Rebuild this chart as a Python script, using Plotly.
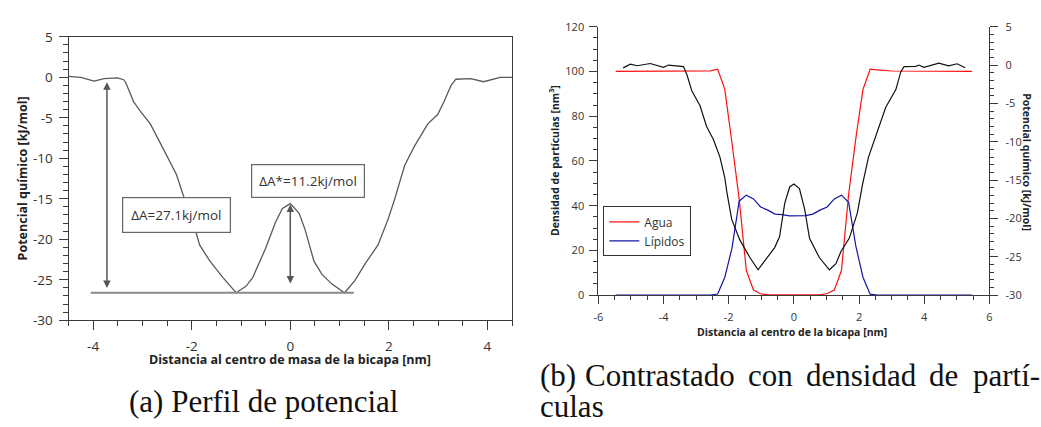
import plotly.graph_objects as go

# ---------------- Data ----------------
# (a) potential profile
pot_x = [-4.5, -4.25, -3.98, -3.78, -3.51, -3.38, -3.34, -3.18, -3.04, -2.84, -2.64, -2.46, -2.31, -2.17,
         -1.97, -1.84, -1.63, -1.37, -1.10, -0.90, -0.76, -0.50, -0.30, -0.16, 0.0, 0.18, 0.30, 0.48,
         0.64, 0.84, 1.10, 1.31, 1.51, 1.78, 1.98, 2.12, 2.32, 2.52, 2.79, 2.99, 3.12, 3.26, 3.36,
         3.66, 3.92, 4.26, 4.5]
pot_y = [0.1, 0.0, -0.47, -0.16, -0.08, -0.3, -0.64, -3.0, -4.2, -5.75, -8.1, -10.2, -12.0, -14.6,
         -17.9, -20.7, -22.7, -24.7, -26.6, -25.8, -24.7, -21.1, -17.9, -16.2, -15.6, -16.8, -18.8, -22.7,
         -24.3, -25.5, -26.6, -25.1, -23.1, -20.7, -17.6, -15.0, -10.9, -8.5, -5.75, -4.6, -3.0, -1.03, -0.24,
         -0.16, -0.55, 0.0, 0.0]

# (b) densities and potential
agua_x = [-5.47, -3.0, -2.56, -2.34, -2.12, -1.90, -1.68, -1.46, -1.24, -1.02, -0.80,
          0.80, 1.02, 1.24, 1.46, 1.68, 1.90, 2.12, 2.34, 2.56, 3.0, 5.47]
agua_y = [100, 100, 100.3, 101, 92, 68, 43, 11, 2.3, 0.6, 0.1,
          0.1, 0.7, 2.3, 11, 45, 70, 92, 101, 100.7, 100.2, 100]

lip_x = [-5.47, -2.56, -2.34, -2.12, -1.90, -1.68, -1.46, -1.24, -1.02, -0.80, -0.58, -0.36, -0.14,
         0.14, 0.36, 0.58, 0.80, 1.02, 1.24, 1.46, 1.68, 1.90, 2.12, 2.34, 2.56, 5.47]
lip_y = [0, 0, 0.5, 8, 21, 42, 44.7, 43, 39.4, 38, 36.2, 36, 35.4,
         35.3, 35.5, 36.2, 38, 39.4, 43, 44.7, 41.5, 22, 8, 0.4, 0, 0]

blk_x = [-5.24, -5.02, -4.81, -4.41, -4.0, -3.85, -3.39, -3.28, -3.13, -2.88, -2.68, -2.47, -2.27, -2.12,
         -2.06, -1.91, -1.66, -1.35, -1.10, -0.84, -0.59, -0.44, -0.28, -0.13, 0.0, 0.17, 0.33, 0.48,
         0.78, 1.09, 1.29, 1.45, 1.70, 1.95, 2.11, 2.29, 2.52, 2.82, 3.13, 3.28, 3.38, 3.74, 3.84, 3.99,
         4.45, 4.75, 5.01, 5.26]
blk_y = [-0.37, 0.12, -0.09, 0.2, -0.3, 0.0, -0.2, -1.3, -3.4, -5.3, -8.0, -9.7, -12.0, -14.7,
         -16.5, -20.1, -22.8, -25.1, -26.7, -25.3, -23.8, -22.4, -18.0, -15.9, -15.5, -16.1, -18.8, -22.6,
         -25.1, -26.7, -25.9, -24.25, -22.6, -19.25, -15.5, -12.0, -9.25, -5.5, -3.2, -0.9, -0.2, -0.17, 0.0, -0.3,
         0.25, -0.1, 0.17, -0.35]

# tick labels
a_xticks = [-4, -2, 0, 2, 4]
a_xlabels = ["-4", "-2", "0", "2", "4"]
a_yticks = [5, 0, -5, -10, -15, -20, -25, -30]
a_ylabels = ["5", "0", "-5", "-10", "-15", "-20", "-25", "-30"]
b_xticks = [-6, -4, -2, 0, 2, 4, 6]
b_xlabels = ["-6", "-4", "-2", "0", "2", "4", "6"]
b_yticks = [0, 20, 40, 60, 80, 100, 120]
b_ylabels = ["0", "20", "40", "60", "80", "100", "120"]
b_y2ticks = [5, 0, -5, -10, -15, -20, -25, -30]
b_y2labels = ["5", "0", "-5", "-10", "-15", "-20", "-25", "-30"]

# annotations text
dA_text = "ΔA=27.1kj/mol"
dAs_text = "ΔA*=11.2kj/mol"
dA_min = -26.6

W, H = 1041, 427
def px(x):
    return x / W
def py(y):
    return 1 - y / H

SANS = "Open Sans"
fig = go.Figure()

fig.add_trace(go.Scatter(x=pot_x, y=pot_y, mode="lines", line=dict(color="#5a5a5a", width=1.3),
                         xaxis="x", yaxis="y", showlegend=False))
fig.add_trace(go.Scatter(x=agua_x, y=agua_y, mode="lines", name="Agua", line=dict(color="#ff1010", width=1.2),
                         xaxis="x2", yaxis="y2"))
fig.add_trace(go.Scatter(x=lip_x, y=lip_y, mode="lines", name="Lípidos", line=dict(color="#1414a8", width=1.2),
                         xaxis="x2", yaxis="y2"))
fig.add_trace(go.Scatter(x=blk_x, y=blk_y, mode="lines", line=dict(color="#111111", width=1.2),
                         xaxis="x2", yaxis="y3", showlegend=False))

axcol = "#3a3a3a"
tickfont_a = dict(family=SANS, size=13.5, color="#333")
tickfont_b = dict(family=SANS, size=11, color="#333")

common = dict(showgrid=False, zeroline=False, showline=True, linecolor=axcol, linewidth=1,
              ticks="outside", tickcolor=axcol, tickwidth=1, tickmode="array")

fig.update_layout(
    width=W, height=H, autosize=False,
    margin=dict(l=0, r=0, t=0, b=0),
    paper_bgcolor="white", plot_bgcolor="white",
    xaxis=dict(domain=[px(64), px(511)], range=[-4.5, 4.5], anchor="y", mirror=True,
               tickvals=a_xticks, ticktext=a_xlabels, ticklen=9, tickfont=tickfont_a, ticklabelstandoff=5,
               minor=dict(dtick=0.5, tick0=0, ticks="outside", ticklen=5, tickcolor=axcol), **common),
    yaxis=dict(domain=[py(325), py(29)], range=[-30, 5], anchor="x", mirror=True,
               tickvals=a_yticks, ticktext=a_ylabels, ticklen=9, tickfont=tickfont_a, ticklabelstandoff=3,
               minor=dict(dtick=1, tick0=0, ticks="outside", ticklen=5, tickcolor=axcol), **common),
    xaxis2=dict(domain=[px(598), px(992)], range=[-6, 6], anchor="y2",
                tickvals=b_xticks, ticktext=b_xlabels, ticklen=8, tickfont=tickfont_b, ticklabelstandoff=4,
                minor=dict(dtick=0.5, tick0=0, ticks="outside", ticklen=4, tickcolor=axcol), **common),
    yaxis2=dict(domain=[py(298.7), py(18.5)], range=[0, 120], anchor="x2",
                tickvals=b_yticks, ticktext=b_ylabels, ticklen=8, tickfont=tickfont_b, ticklabelstandoff=3,
                minor=dict(dtick=5, tick0=0, ticks="outside", ticklen=4, tickcolor=axcol), **common),
    yaxis3=dict(range=[-30, 5], anchor="x2", overlaying="y2", side="right",
                tickvals=b_y2ticks, ticktext=b_y2labels, ticklen=8, tickfont=tickfont_b, ticklabelstandoff=5,
                minor=dict(dtick=1, tick0=0, ticks="outside", ticklen=4, tickcolor=axcol), **common),
    legend=dict(x=px(603), y=py(206), xanchor="left", yanchor="top",
                bordercolor="#333", borderwidth=1, bgcolor="white",
                font=dict(family=SANS, size=12, color="#333"), itemwidth=30, tracegroupgap=0),
)

# horizontal reference line at the minima
fig.add_shape(type="line", xref="x", yref="y", x0=-4.05, x1=1.29, y0=dA_min, y1=dA_min,
              line=dict(color="#8a8a8a", width=2))

ann = []
# double arrows
ann.append(dict(x=-3.72, y=-0.6, ax=-3.72, ay=-26.2, xref="x", yref="y", axref="x", ayref="y",
                text="", showarrow=True, arrowhead=2, arrowside="end+start", arrowsize=1,
                arrowwidth=1.5, arrowcolor="#555", standoff=0, startstandoff=0))
ann.append(dict(x=0.0, y=-15.7, ax=0.0, ay=-25.65, xref="x", yref="y", axref="x", ayref="y",
                text="", showarrow=True, arrowhead=2, arrowside="end+start", arrowsize=1,
                arrowwidth=1.5, arrowcolor="#555", standoff=0, startstandoff=0))
# boxed labels
ann.append(dict(x=-2.30, y=-17.0, xref="x", yref="y", text=dA_text, showarrow=False,
                xanchor="center", yanchor="middle",
                bordercolor="#666", borderwidth=1.2, borderpad=8, bgcolor="white",
                font=dict(family=SANS, size=13.5, color="#333")))
ann.append(dict(x=0.36, y=-12.8, xref="x", yref="y", text=dAs_text, showarrow=False,
                xanchor="center", yanchor="middle",
                bordercolor="#666", borderwidth=1.2, borderpad=7, bgcolor="white",
                font=dict(family=SANS, size=13.5, color="#333")))

# axis titles
tfont_a = dict(family=SANS, size=12.5, color="#222", weight="bold")
tfont_b = dict(family=SANS, size=10.5, color="#222", weight="bold")
def pann(x, y, text, font, angle=0, xanchor="center"):
    return dict(x=px(x), y=py(y), xref="paper", yref="paper", showarrow=False, textangle=angle,
                xanchor=xanchor, yanchor="middle", text=text, font=font)

ann.append(pann(287, 366, "Distancia al centro de masa de la bicapa [nm]", tfont_a))
ann.append(pann(18, 177, "Potencial químico [kJ/mol]", tfont_a, -90))
ann.append(pann(793, 337, "Distancia al centro de la bicapa [nm]", tfont_b))
ann.append(pann(553, 158, "Densidad de partículas [nm<sup>3</sup>]", tfont_b, -90))
ann.append(pann(1030, 160, "Potencial químico [kJ/mol]", tfont_b, 90))

# captions
cfont = dict(family="Liberation Serif", size=31, color="#111")
ann.append(pann(260, 410, "(a) Perfil de potencial", cfont))
cap_b_words = ["(b)", "Contrastado", "con", "densidad", "de", "partí-"]
cap_b_pos = [537, 582, 747, 805, 929, 973]
for w, xp in zip(cap_b_words, cap_b_pos):
    ann.append(pann(xp, 383, w, cfont, xanchor="left"))
ann.append(pann(537, 415, "culas", cfont, xanchor="left"))

fig.update_layout(annotations=ann)
fig.write_html("out.html")
